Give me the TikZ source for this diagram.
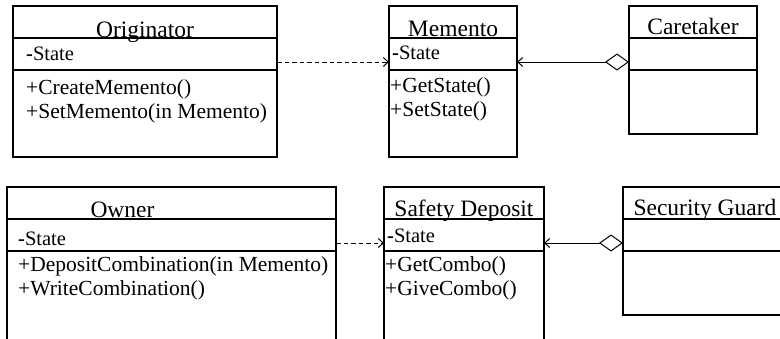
\documentclass[tikz,border=0pt]{standalone}
\usepackage{fontspec}
\setmainfont{Liberation Serif}
\usepackage{tikz}
\usetikzlibrary{arrows.meta,positioning,calc}

\begin{document}
\begin{tikzpicture}[
  x=1pt, y=-1pt,
  umlclass/.style={draw, line width=1.3pt, anchor=north west, inner sep=0pt, outer sep=0pt, minimum width=#1,
    path picture={
      \draw[line width=1.3pt] ([yshift=-32pt]path picture bounding box.north west) -- ([yshift=-32pt]path picture bounding box.north east);
      \draw[line width=1.3pt] ([yshift=-64pt]path picture bounding box.north west) -- ([yshift=-64pt]path picture bounding box.north east);}},
  cname/.style={anchor=base, inner sep=0pt, font=\fontsize{23.5}{24}\selectfont},
  cattr/.style={anchor=base west, inner sep=0pt, font=\fontsize{20.5}{21}\selectfont},
  cops/.style={anchor=base west, inner sep=0pt, align=left, font=\fontsize{21.5}{24}\selectfont},
  dep/.style={draw, line width=1pt, dash pattern=on 4.5pt off 3pt, -{Straight Barb[length=5pt,width=9pt]}},
  agg/.style={draw, line width=1pt, {Diamond[open,fill=white,length=24pt,width=17pt]}-{Straight Barb[length=5pt,width=9pt]}}]
\path[use as bounding box, clip] (0,0) rectangle (780,338);
\node[umlclass=264pt, minimum height=151pt] (orig) at (13,6) {};
\node[umlclass=128pt, minimum height=151pt] (mem) at (389,6) {};
\node[umlclass=128pt, minimum height=128pt] (care) at (629,6) {};
\node[umlclass=329pt, minimum height=175pt] (own) at (7,187) {};
\node[umlclass=160pt, minimum height=175pt] (safe) at (384,187) {};
\node[umlclass=164pt, minimum height=128pt] (guard) at (623,187) {};
\node[cname] (orig-name) at ([yshift=-31pt]orig.north) {Originator};
\node[cname] (mem-name) at ([yshift=-30pt]mem.north) {Memento};
\node[cname] (care-name) at ([yshift=-28pt]care.north) {Caretaker};
\node[cname] (own-name) at ([xshift=-49pt,yshift=-30pt]own.north) {Owner};
\node[cname] (safe-name) at ([yshift=-29pt]safe.north) {Safety Deposit};
\node[cname] (guard-name) at ([yshift=-28pt]guard.north) {Security Guard};
\node[cattr] (orig-attr) at ([xshift=13pt,yshift=-54pt]orig.north west) {\textbf{-}State};
\node[cattr] (mem-attr) at ([xshift=3pt,yshift=-53pt]mem.north west) {\textbf{-}State};
\node[cattr] (own-attr) at ([xshift=11pt,yshift=-58pt]own.north west) {\textbf{-}State};
\node[cattr] (safe-attr) at ([xshift=3pt,yshift=-55pt]safe.north west) {\textbf{-}State};
\node[cops] (orig-ops) at ([xshift=13pt,yshift=-112pt]orig.north west) {+CreateMemento()\\+SetMemento(in Memento)};
\node[cops] (mem-ops) at ([xshift=1pt,yshift=-110pt]mem.north west) {+GetState()\\+SetState()};
\node[cops] (own-ops) at ([xshift=11pt,yshift=-108pt]own.north west) {+DepositCombination(in Memento)\\+WriteCombination()};
\node[cops] (safe-ops) at ([xshift=1pt,yshift=-108pt]safe.north west) {+GetCombo()\\+GiveCombo()};
\draw[dep] ([yshift=-56pt]orig.north east) -- ([yshift=-56pt]mem.north west);
\draw[agg] ([yshift=-56pt]care.north west) -- ([yshift=-56pt]mem.north east);
\draw[dep] ([yshift=-56pt]own.north east) -- ([yshift=-56pt]safe.north west);
\draw[agg] ([yshift=-56pt]guard.north west) -- ([yshift=-56pt]safe.north east);
\end{tikzpicture}
\end{document}
